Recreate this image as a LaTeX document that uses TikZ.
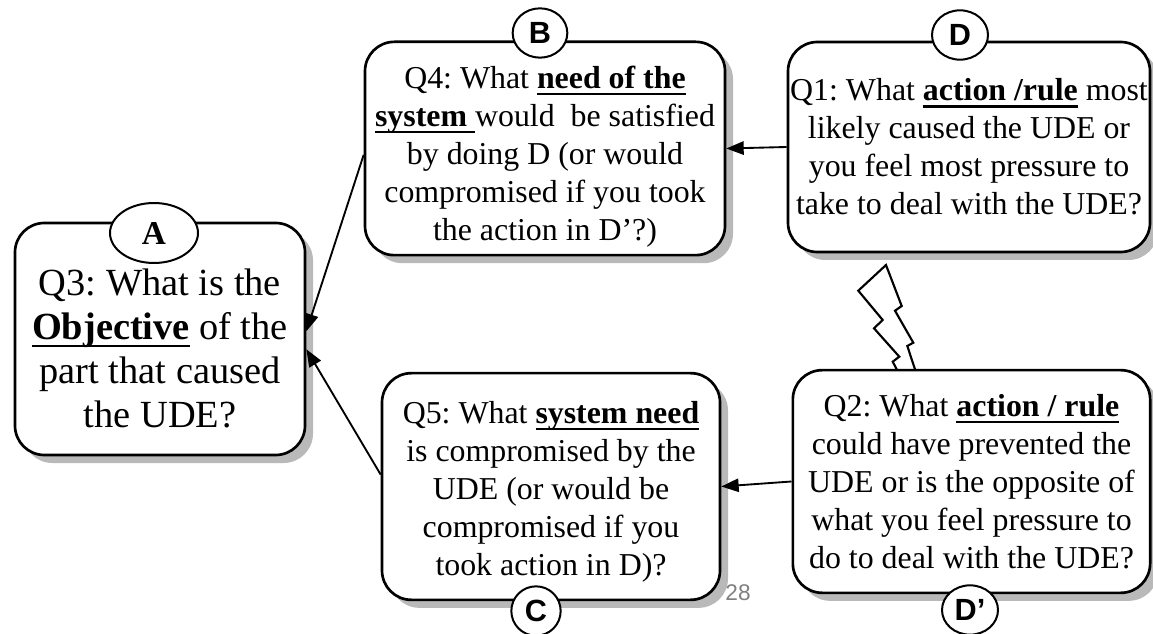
\documentclass[tikz,border=0pt]{standalone}
\usepackage{fontspec}
\setmainfont{Liberation Serif}
\newfontfamily\tagfont{Liberation Sans}
\usetikzlibrary{shapes.geometric,shadows,arrows.meta}
\frenchspacing
\newsavebox{\keybox}
\newcommand{\keyterm}[1]{\sbox{\keybox}{\textbf{#1}}%
  \rlap{\rule[-0.21em]{\wd\keybox}{1.6pt}}\usebox{\keybox}}

\tikzset{
  qbox/.style={draw, line width=2pt, rounded corners=22pt, fill=white,
    align=center, inner sep=0pt,
    drop shadow={shadow xshift=6pt, shadow yshift=-6pt, opacity=1, fill=gray!55},
    font=\fontsize{23.9}{28.5}\selectfont},
  tag/.style={draw, ellipse, line width=1.5pt, fill=white, inner sep=0pt,
    minimum width=41pt, minimum height=37pt,
    font=\tagfont\bfseries\fontsize{23}{23}\selectfont},
  link/.style={line width=1.4pt, -{Triangle[length=13pt,width=10pt]}},
}

\begin{document}
\begin{tikzpicture}[x=0.75pt,y=-0.75pt]
\useasboundingbox (0,0) rectangle (1153,634);
% conflict between D and D'
\draw[line width=1.6pt, fill=white] (896.7,374) -- (896.7,369.3) -- (892.7,361.7)
  -- (899.3,356.7) -- (874,328.3) -- (882.7,320) -- (858.3,290.7) -- (886,265)
  -- (901.7,306) -- (895,310.7) -- (913.3,342.7) -- (907.3,346) -- (915,369.3) -- (916.5,374);
% question boxes
\draw (160,339) node[qbox, minimum width=217.5pt, minimum height=174pt,
  font=\fontsize{28.8}{33}\selectfont] (A)
  {\rule{0pt}{34pt}Q3: What is the\\ \keyterm{Objective} of the\\ part that caused\\ the UDE?};
\draw (545,148.5) node[qbox, minimum width=270pt, minimum height=160pt] (B)
  {\rule{0pt}{29pt}Q4: What \keyterm{need of the}\\ \keyterm{system\ }would~ be satisfied\\
   by doing D (or would\\ compromised if you took\\ the action in D’?)};
\draw (969,147) node[qbox, minimum width=271.5pt, minimum height=157.5pt] (D)
  {Q1: What \keyterm{action /rule} most\\ likely caused the UDE or\\
   you feel most pressure to\\ take to deal with the UDE?};
\draw (551,486.5) node[qbox, minimum width=253.5pt, minimum height=170pt] (C)
  {\rule{0pt}{24pt}Q5: What \keyterm{system need}\\ is compromised by the\\ UDE (or would be\\
   compromised if you\\ took action in D)?};
\draw (971.5,481.5) node[qbox, minimum width=268pt, minimum height=167pt] (Dp)
  {Q2: What \keyterm{action / rule}\\ could have prevented the\\
   UDE or is the opposite of\\ what you feel pressure to\\ do to deal with the UDE?};
% letter tags
\draw (154,233) node[tag, minimum width=66pt, minimum height=45pt,
  font=\rmfamily\bfseries\fontsize{25}{25}\selectfont] (tagA) {A};
\draw (540,33) node[tag] (tagB) {B};
\draw (960,35) node[tag, minimum width=42pt] (tagD) {D};
\draw (536,611) node[tag, minimum width=37pt] (tagC) {C};
\draw (970,610) node[tag, minimum width=42pt] (tagDp) {D’};
% page number
\draw (738,593) node[font=\tagfont\fontsize{17}{17}\selectfont, text=gray] (page) {28};
% arrows
\draw[link] (D.west) -- (B.east);
\draw[link] (Dp.west) -- (C.east);
\draw[link] (B.182) -- (A.3);
\draw[link] (C.176) -- (A.-4);
\end{tikzpicture}
\end{document}
